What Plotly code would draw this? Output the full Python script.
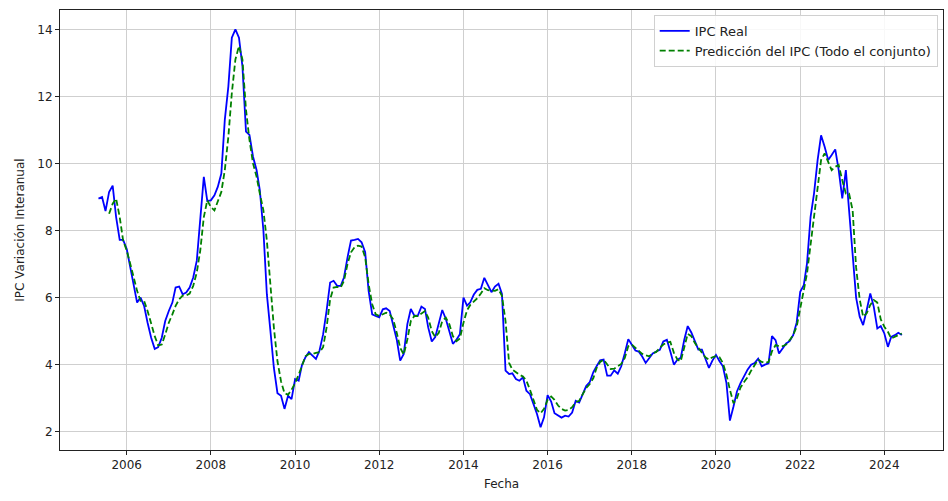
import pandas as pd
import plotly.graph_objects as go

# Monthly series, May 2005 - June 2024
fechas = pd.date_range("2005-05-01", periods=230, freq="MS")

ipc_real = [
    8.95, 9.0, 8.58, 9.15, 9.34, 8.4, 7.72, 7.72, 7.45, 6.9,
    6.35, 5.85, 6.0, 5.75, 5.25, 4.8, 4.47, 4.52, 4.8, 5.3,
    5.6, 5.85, 6.3, 6.33, 6.1, 6.15, 6.3, 6.6, 7.1, 8.3,
    9.6, 8.88, 8.9, 9.05, 9.3, 9.7, 11.3, 12.3, 13.75, 14.0,
    13.75, 12.9, 10.95, 10.85, 10.2, 9.8, 9.2, 8.0, 6.1, 5.0,
    3.9, 3.15, 3.07, 2.68, 3.07, 2.97, 3.57, 3.52, 3.98, 4.22,
    4.37, 4.27, 4.17, 4.42, 4.9, 5.6, 6.45, 6.5, 6.35, 6.35,
    6.6, 7.2, 7.7, 7.72, 7.75, 7.65, 7.35, 6.2, 5.5, 5.45,
    5.41, 5.65, 5.68, 5.6, 5.2, 4.75, 4.12, 4.32, 5.21, 5.66,
    5.46, 5.46, 5.73, 5.66, 5.11, 4.69, 4.82, 5.21, 5.63, 5.36,
    5.01, 4.62, 4.74, 4.91, 6.0, 5.76, 5.86, 6.09, 6.23, 6.26,
    6.59, 6.39, 6.16, 6.33, 6.41, 6.11, 3.82, 3.72, 3.74, 3.57,
    3.52, 3.62, 3.22, 3.12, 2.83, 2.53, 2.13, 2.43, 3.09, 2.9,
    2.55, 2.48, 2.42, 2.48, 2.45, 2.57, 2.92, 2.87, 3.11, 3.36,
    3.48, 3.78, 3.95, 4.13, 4.15, 3.67, 3.67, 3.83, 3.73, 3.95,
    4.34, 4.76, 4.59, 4.42, 4.39, 4.24, 4.05, 4.2, 4.33, 4.39,
    4.44, 4.69, 4.74, 4.39, 4.0, 4.15, 4.2, 4.74, 5.15, 4.96,
    4.69, 4.45, 4.45, 4.2, 3.9, 4.12, 4.29, 4.1, 3.95, 3.45,
    2.33, 2.75, 3.2, 3.45, 3.67, 3.85, 4.0, 4.05, 4.18, 3.95,
    4.0, 4.04, 4.85, 4.73, 4.33, 4.48, 4.63, 4.7, 4.88, 5.25,
    6.17, 6.37, 7.02, 8.41, 9.11, 10.1, 10.84, 10.5, 10.1, 10.25,
    10.42, 9.8, 8.96, 9.8, 8.6, 7.5, 6.0, 5.43, 5.18, 5.63,
    6.12, 5.73, 5.08, 5.15, 4.93, 4.53, 4.83, 4.88, 4.95, 4.88,
]

ipc_prediccion = [
    None, None, None, 8.5, 8.8, 8.95, 8.4, 7.7, 7.4, 7.0,
    6.6, 6.2, 5.9, 5.9, 5.6, 5.2, 4.85, 4.57, 4.6, 4.9,
    5.25, 5.5, 5.75, 5.95, 6.06, 6.06, 6.12, 6.35, 6.75, 7.4,
    8.4, 8.9, 8.7, 8.6, 8.85, 9.15, 9.8, 10.8, 12.1, 13.1,
    13.5, 13.1, 11.6, 10.7, 10.0, 9.6, 9.1, 8.6, 7.7, 6.3,
    5.1, 4.1, 3.5, 3.15, 3.1, 3.25, 3.45, 3.7, 3.97, 4.25,
    4.32, 4.32, 4.35, 4.37, 4.52, 5.1, 5.95, 6.3, 6.32, 6.3,
    6.5, 7.0, 7.35, 7.5, 7.55, 7.52, 7.2, 6.4, 5.8, 5.5,
    5.45, 5.5, 5.55, 5.5, 5.35, 4.95, 4.5, 4.3, 4.75, 5.3,
    5.45, 5.45, 5.52, 5.6, 5.4, 5.0, 4.82, 4.95, 5.3, 5.4,
    5.2, 4.85, 4.7, 4.78, 5.25, 5.62, 5.78, 5.88, 5.98, 6.12,
    6.28, 6.22, 6.2, 6.2, 6.25, 6.05, 5.3, 4.05, 3.85, 3.77,
    3.7, 3.65, 3.52, 3.25, 2.95, 2.65, 2.55, 2.68, 2.95, 3.05,
    2.95, 2.78, 2.68, 2.63, 2.65, 2.73, 2.88, 2.92, 3.12, 3.3,
    3.42, 3.6, 3.9, 4.08, 4.15, 4.02, 3.87, 3.88, 3.95, 4.02,
    4.2, 4.55, 4.6, 4.5, 4.42, 4.32, 4.28, 4.25, 4.33, 4.38,
    4.5, 4.6, 4.66, 4.68, 4.35, 4.15, 4.1, 4.5, 4.92, 4.85,
    4.65, 4.5, 4.35, 4.22, 4.15, 4.22, 4.25, 4.22, 4.05, 3.7,
    3.25, 2.85, 3.0, 3.32, 3.48, 3.62, 3.82, 4.0, 4.15, 4.08,
    4.05, 4.08, 4.4, 4.58, 4.55, 4.55, 4.6, 4.73, 4.88, 5.13,
    5.73, 6.22, 6.72, 7.6, 8.5, 9.3, 10.1, 10.3, 10.05, 9.8,
    9.9, 9.95, 9.5, 9.1, 9.1, 8.6, 6.9, 5.95, 5.43, 5.53,
    5.78, 5.93, 5.85, 5.35, 5.13, 4.98, 4.78, 4.82, 4.88, 4.93,
]

year_ticks = [f"{y}-01-01" for y in range(2006, 2025, 2)]
year_labels = [str(y) for y in range(2006, 2025, 2)]
y_ticks = [2, 4, 6, 8, 10, 12, 14]

FONT = "DejaVu Sans"

fig = go.Figure()
fig.add_trace(go.Scatter(
    x=fechas, y=ipc_real, mode="lines", name="IPC Real",
    line=dict(color="#0000ff", width=1.8),
))
fig.add_trace(go.Scatter(
    x=fechas, y=ipc_prediccion, mode="lines",
    name="Predicción del IPC (Todo el conjunto)",
    line=dict(color="#008000", width=1.8, dash="6px,3px"),
))

axis_common = dict(
    showline=True, linecolor="#222222", linewidth=1, mirror=True,
    showgrid=True, gridcolor="#cfcfcf", gridwidth=1,
    ticks="outside", ticklen=4, tickcolor="#222222",
    tickfont=dict(family=FONT, size=12, color="#222222"),
    zeroline=False,
)

fig.update_layout(
    width=948, height=501,
    margin=dict(l=60, r=5, t=10, b=51),
    paper_bgcolor="white", plot_bgcolor="white",
    font=dict(family=FONT, size=12, color="#222222"),
    xaxis=dict(
        **axis_common,
        type="date",
        range=["2004-06-01", "2025-05-24"],
        tickvals=year_ticks, ticktext=year_labels,
        title=dict(text="Fecha", font=dict(family=FONT, size=12), standoff=8),
    ),
    yaxis=dict(
        **axis_common,
        range=[1.454, 14.576],
        tickvals=y_ticks,
        title=dict(text="IPC Variación Interanual", font=dict(family=FONT, size=12), standoff=10),
    ),
    legend=dict(
        x=0.994, y=0.989, xanchor="right", yanchor="top",
        bgcolor="rgba(255,255,255,0.85)", bordercolor="#d0d0d0", borderwidth=1,
        font=dict(family=FONT, size=13, color="#222222"),
        itemwidth=30, tracegroupgap=2,
    ),
    showlegend=True,
)

fig.write_html("out.html")
